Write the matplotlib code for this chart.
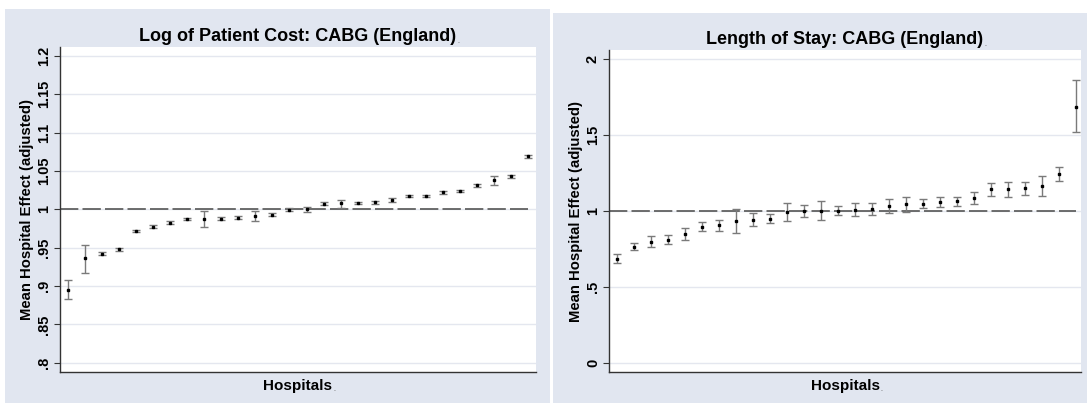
import numpy as np
import matplotlib
matplotlib.use("Agg")
import matplotlib.pyplot as plt
from matplotlib.patches import Rectangle

plt.rcParams['font.family'] = ['Liberation Sans', 'DejaVu Sans']

# --- data ---
hospitals = np.arange(1, 29)

# left: log of patient cost
cost_mean = [0.895, 0.936, 0.942, 0.948, 0.9715, 0.9776, 0.9824, 0.9872, 0.9876, 0.988,
             0.9893, 0.9915, 0.9928, 0.9998, 1.0002, 1.0076, 1.008, 1.0085, 1.0094, 1.012,
             1.0172, 1.0176, 1.022, 1.0237, 1.0316, 1.038, 1.0429, 1.069]
cost_lo = [0.883, 0.9175, 0.940, 0.946, 0.970, 0.9756, 0.9804, 0.9857, 0.9772, 0.9865,
           0.9873, 0.9854, 0.9908, 0.9978, 0.9967, 1.0056, 1.0024, 1.007, 1.0074, 1.0095,
           1.0157, 1.0161, 1.020, 1.0222, 1.0296, 1.0324, 1.0409, 1.0675]
cost_hi = [0.9075, 0.9536, 0.944, 0.950, 0.973, 0.9796, 0.9844, 0.9887, 0.9972, 0.9895,
           0.9913, 0.9972, 0.9948, 1.0018, 1.0037, 1.0096, 1.0128, 1.010, 1.0114, 1.0145,
           1.0187, 1.0191, 1.024, 1.0252, 1.0336, 1.0437, 1.0449, 1.0705]

# right: length of stay
los_mean = [0.686, 0.765, 0.800, 0.811, 0.849, 0.897, 0.910, 0.932, 0.945, 0.950,
            0.993, 1.004, 1.004, 1.004, 1.009, 1.013, 1.031, 1.046, 1.050, 1.059,
            1.064, 1.088, 1.143, 1.147, 1.151, 1.164, 1.243, 1.684]
los_lo = [0.660, 0.743, 0.765, 0.783, 0.809, 0.871, 0.871, 0.855, 0.901, 0.919,
          0.936, 0.963, 0.941, 0.974, 0.965, 0.974, 0.987, 0.993, 1.020, 1.026,
          1.037, 1.048, 1.099, 1.096, 1.105, 1.099, 1.197, 1.518]
los_hi = [0.717, 0.792, 0.836, 0.840, 0.886, 0.928, 0.945, 1.015, 0.991, 0.980,
          1.053, 1.042, 1.070, 1.037, 1.055, 1.053, 1.079, 1.096, 1.077, 1.090,
          1.090, 1.125, 1.184, 1.195, 1.195, 1.230, 1.289, 1.866]

cost_ticks = [0.8, 0.85, 0.9, 0.95, 1.0, 1.05, 1.1, 1.15, 1.2]
cost_labels = ['.8', '.85', '.9', '.95', '1', '1.05', '1.1', '1.15', '1.2']
los_ticks = [0, 0.5, 1, 1.5, 2]
los_labels = ['0', '.5', '1', '1.5', '2']

bg = '#e1e6f0'
W, H = 1087, 403
fig = plt.figure(figsize=(W / 100, H / 100), dpi=100, facecolor='white')

# panel backgrounds (pixels -> figure fraction)
for x0, y0, x1, y1 in [(5, 9, 550, 403), (553, 13, 1087, 403)]:
    fig.patches.append(Rectangle((x0 / W, 1 - y1 / H), (x1 - x0) / W, (y1 - y0) / H,
                                 transform=fig.transFigure, facecolor=bg,
                                 edgecolor='none', zorder=-5))


def small_dot(ax, txt):
    # the source has a tiny trailing period after titles/labels
    ax.annotate('.', xy=(1, 0), xycoords=txt, xytext=(0.5, 0), textcoords='offset points',
                fontsize=5, ha='left', va='bottom', color='#444444')


def panel(rect, mean, lo, hi, ticks, labels, ylim, xlim, title):
    ax = fig.add_axes(rect)
    ax.set_zorder(2)
    ax.set_facecolor('white')
    mean = np.array(mean)
    yerr = [mean - np.array(lo), np.array(hi) - mean]
    ax.axhline(1, xmin=0, xmax=(28 - xlim[0]) / (xlim[1] - xlim[0]),
               color='#555555', lw=1.2, ls=(0, (11, 2.5)), zorder=2)
    ax.errorbar(hospitals, mean, yerr=yerr, fmt='s', color='black', ms=1.5,
                ecolor='#7a7a7a', elinewidth=1, capsize=2.6, capthick=1, zorder=3)
    ax.set_xlim(*xlim)
    ax.set_ylim(*ylim)
    ax.set_yticks(ticks)
    ax.set_yticklabels(labels, rotation=90, va='center', fontsize=10.5, fontweight='bold')
    ax.set_xticks([])
    ax.grid(axis='y', color='#e4e7ef', lw=1)
    ax.set_axisbelow(True)
    for s in ['top', 'right']:
        ax.spines[s].set_visible(False)
    for s in ['left', 'bottom']:
        ax.spines[s].set_color('#333333')
        ax.spines[s].set_linewidth(1)
    ax.tick_params(axis='y', length=4.5, width=0.8, color='#333333', pad=2)
    t = ax.set_title(title, fontsize=13, fontweight='bold', pad=4)
    xl = ax.set_xlabel('Hospitals', fontsize=11, fontweight='bold', labelpad=5)
    ax.set_ylabel('Mean Hospital Effect (adjusted)', fontsize=10.7, fontweight='bold', labelpad=2)
    small_dot(ax, t)
    small_dot(ax, xl)
    return ax


panel([60 / W, 31 / H, 476 / W, 325 / H], cost_mean, cost_lo, cost_hi,
      cost_ticks, cost_labels, (0.7879, 1.2117), (0.529, 28.47),
      'Log of Patient Cost: CABG (England)')
panel([609 / W, 31 / H, 472 / W, 322 / H], los_mean, los_lo, los_hi,
      los_ticks, los_labels, (-0.059, 2.061), (0.508, 28.32),
      'Length of Stay: CABG (England)')

fig.savefig('out.png', dpi=100, facecolor='white')
